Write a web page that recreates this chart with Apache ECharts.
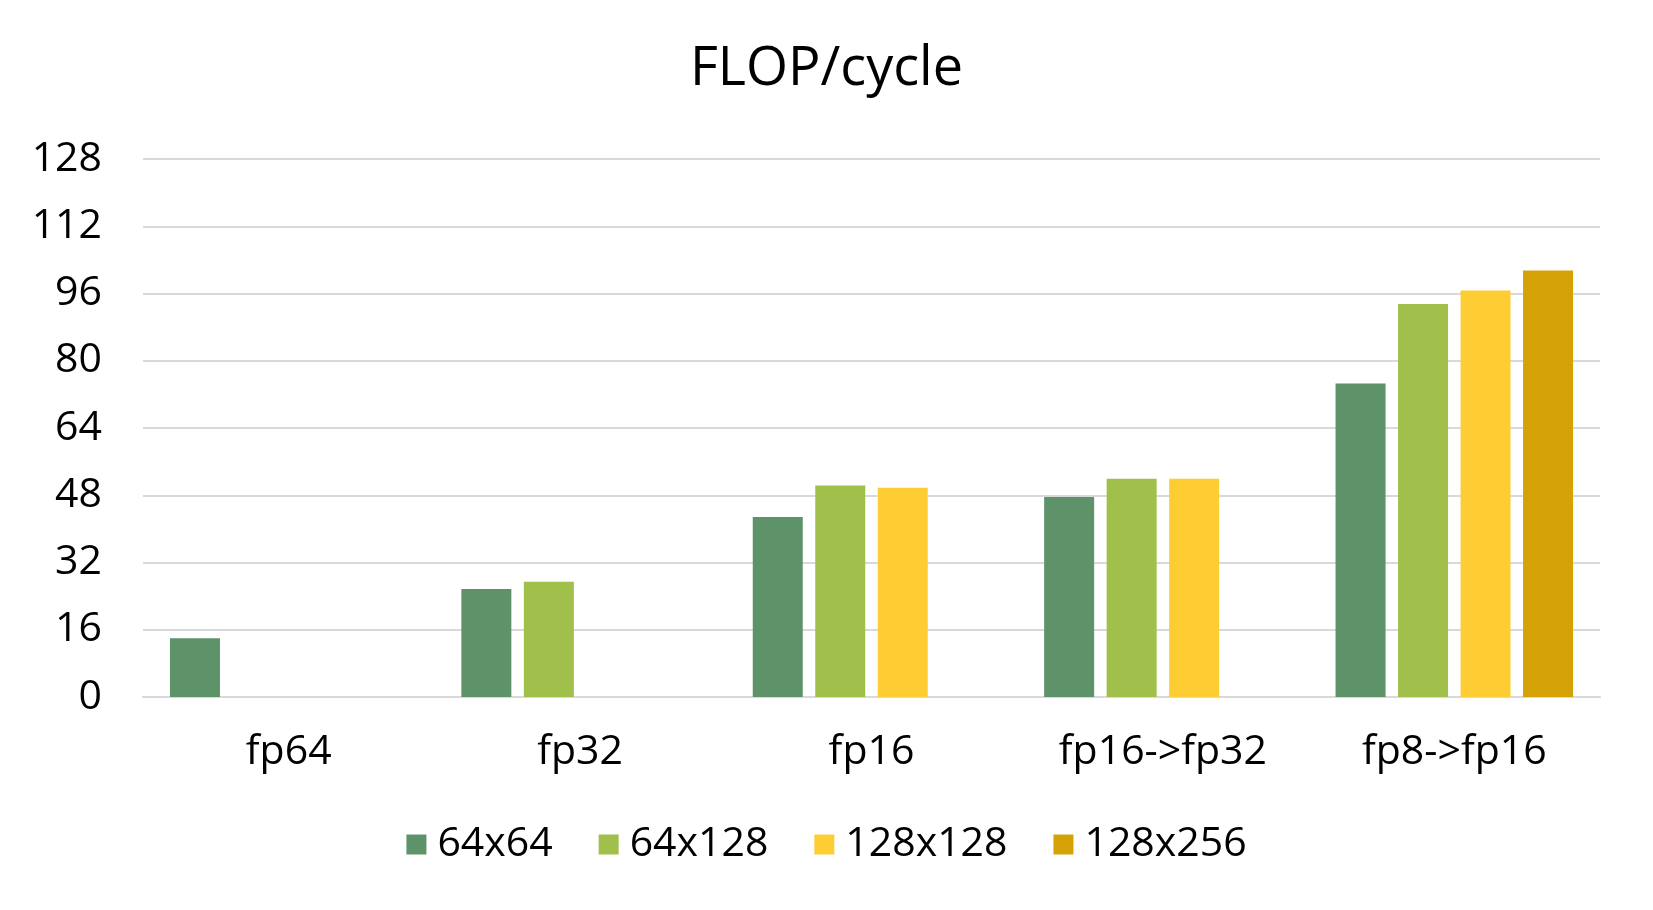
<!DOCTYPE html>
<html>
<head>
<meta charset="utf-8">
<script src="https://cdn.jsdelivr.net/npm/echarts@6/dist/echarts.min.js"></script>
<style>
  html, body { margin: 0; padding: 0; background: #ffffff; }
  #chart { width: 1653px; height: 910px; }
</style>
</head>
<body>
<div id="chart"></div>
<script>
const categories = ['fp64', 'fp32', 'fp16', 'fp16->fp32', 'fp8->fp16'];
const seriesNames = ['64x64', '64x128', '128x128', '128x256'];
const s64x64 = [14, 25.7, 42.8, 47.6, 74.6];
const s64x128 = [null, 27.4, 50.3, 51.9, 93.5];
const s128x128 = [null, null, 49.8, 51.9, 96.7];
const s128x256 = [null, null, null, null, 101.5];
const yTicks = [0, 16, 32, 48, 64, 80, 96, 112, 128];
const colors = ['#5e9268', '#a0bf4b', '#fecc33', '#d4a106'];

const seriesData = [s64x64, s64x128, s128x128, s128x256];
const FONT = 'Open Sans';

const chart = echarts.init(document.getElementById('chart'));
chart.setOption({
  backgroundColor: '#ffffff',
  animation: false,
  title: {
    text: 'FLOP/cycle',
    left: 'center',
    top: 38,
    textStyle: { fontFamily: FONT, fontSize: 54, fontWeight: 'normal', color: '#000000' }
  },
  legend: {
    data: seriesNames,
    left: 'center',
    top: 819,
    itemWidth: 20,
    itemHeight: 20,
    itemGap: 46,
    icon: 'rect',
    textStyle: { fontFamily: FONT, fontSize: 41, color: '#000000', padding: [0, 0, 0, 6] }
  },
  grid: { left: 143, right: 53, top: 159, bottom: 213, containLabel: false },
  xAxis: {
    type: 'category',
    data: categories,
    axisLine: { show: true, lineStyle: { color: '#d9d9d9', width: 2 } },
    axisTick: { show: false },
    axisLabel: { fontFamily: FONT, fontSize: 41, color: '#000000', margin: 35, interval: 0 }
  },
  yAxis: {
    type: 'value',
    min: yTicks[0],
    max: yTicks[yTicks.length - 1],
    interval: 16,
    axisLine: { show: false },
    axisTick: { show: false },
    splitLine: { lineStyle: { color: '#d9d9d9', width: 2 } },
    axisLabel: { fontFamily: FONT, fontSize: 41, color: '#000000', margin: 41 }
  },
  series: seriesNames.map((name, i) => ({
    name: name,
    type: 'bar',
    data: seriesData[i],
    barWidth: 50,
    barGap: '25%',
    itemStyle: { color: colors[i] }
  }))
});
</script>
</body>
</html>
